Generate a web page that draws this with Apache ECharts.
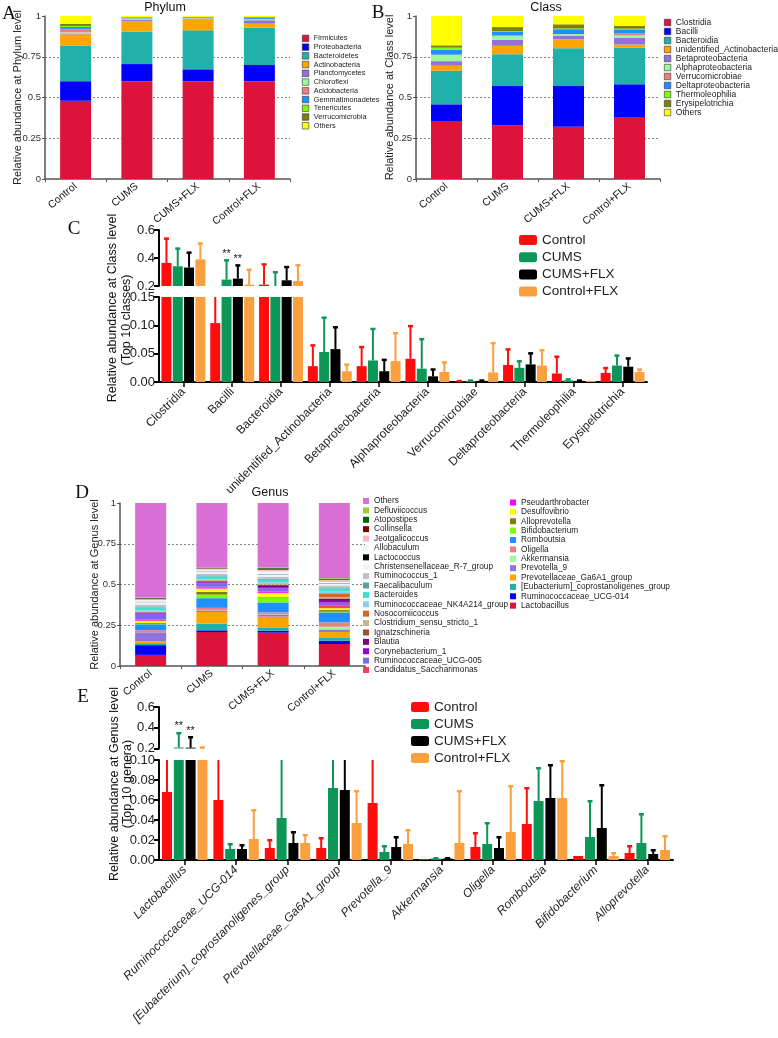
<!DOCTYPE html>
<html>
<head>
<meta charset="utf-8">
<title>Relative abundance</title>
<script src="https://cdn.jsdelivr.net/npm/echarts@6.0.0/dist/echarts.min.js"></script>
<style>
    html, body { margin: 0; padding: 0; background: #fff; }
    #main { width: 778px; height: 1038px; }
</style>
</head>
<body>
<div id="main"></div>
<script>
var groups = ['Control', 'CUMS', 'CUMS+FLX', 'Control+FLX'];

// A - phylum level, bottom to top of each bar
var phylumNames = ['Firmicutes', 'Proteobacteria', 'Bacteroidetes', 'Actinobacteria', 'Planctomycetes', 'Chloroflexi',
    'Acidobacteria', 'Gemmatimonadetes', 'Tenericutes', 'Verrucomicrobia', 'Others'];
var phylumControl = [0.48, 0.12, 0.217, 0.07, 0.006, 0.006, 0.022, 0.012, 0.006, 0.012, 0.049];
var phylumCums = [0.60, 0.105, 0.20, 0.065, 0.006, 0.003, 0.004, 0.003, 0.002, 0.004, 0.008];
var phylumCumsFlx = [0.60, 0.073, 0.239, 0.068, 0.004, 0.002, 0.002, 0.004, 0.001, 0.002, 0.005];
var phylumControlFlx = [0.60, 0.10, 0.228, 0.025, 0.021, 0.005, 0.003, 0.007, 0.002, 0.003, 0.006];

// B - class level
var classNames = ['Clostridia', 'Bacilli', 'Bacteroidia', 'unidentified_Actinobacteria', 'Betaproteobacteria',
    'Alphaproteobacteria', 'Verrucomicrobiae', 'Deltaproteobacteria', 'Thermoleophilia', 'Erysipelotrichia', 'Others'];
var classControl = [0.356, 0.102, 0.206, 0.031, 0.028, 0.037, 0.003, 0.03, 0.013, 0.014, 0.18];
var classCums = [0.33, 0.24, 0.196, 0.051, 0.038, 0.023, 0.002, 0.022, 0.004, 0.026, 0.068];
var classCumsFlx = [0.32, 0.25, 0.232, 0.055, 0.023, 0.008, 0.001, 0.03, 0.004, 0.026, 0.051];
var classControlFlx = [0.381, 0.2, 0.226, 0.018, 0.04, 0.015, 0.012, 0.026, 0.004, 0.018, 0.06];

// C - top 10 classes, mean and mean+sd
var classTop = ['Clostridia', 'Bacilli', 'Bacteroidia', 'unidentified_Actinobacteria', 'Betaproteobacteria',
    'Alphaproteobacteria', 'Verrucomicrobiae', 'Deltaproteobacteria', 'Thermoleophilia', 'Erysipelotrichia'];
var cMeanControl = [0.365, 0.104, 0.21, 0.028, 0.028, 0.041, 0.001, 0.03, 0.015, 0.016];
var cErrControl = [0.54, 0.17, 0.356, 0.065, 0.062, 0.099, 0.002, 0.058, 0.045, 0.025];
var cMeanCums = [0.341, 0.246, 0.198, 0.053, 0.038, 0.0235, 0.002, 0.025, 0.003, 0.029];
var cErrCums = [0.469, 0.385, 0.30, 0.114, 0.094, 0.076, 0.003, 0.037, 0.005, 0.047];
var cMeanCumsFlx = [0.332, 0.253, 0.241, 0.058, 0.019, 0.01, 0.002, 0.031, 0.002, 0.027];
var cErrCumsFlx = [0.44, 0.349, 0.337, 0.097, 0.0395, 0.0225, 0.003, 0.051, 0.003, 0.042];
var cMeanControlFlx = [0.39, 0.21, 0.236, 0.019, 0.037, 0.0177, 0.017, 0.029, 0.002, 0.0177];
var cErrControlFlx = [0.505, 0.318, 0.35, 0.031, 0.0865, 0.035, 0.069, 0.0565, 0.002, 0.0224];
var cStarsCums = ['', '**', '', '', '', '', '', '', '', ''];
var cStarsCumsFlx = ['', '**', '', '', '', '', '', '', '', ''];

// D - genus level, bottom to top of each bar
var genusNames = ['Lactobacillus', 'Ruminococcaceae_UCG-014', '[Eubacterium]_coprostanoligenes_group',
    'Prevotellaceae_Ga6A1_group', 'Prevotella_9', 'Akkermansia', 'Oligella', 'Romboutsia', 'Bifidobacterium',
    'Alloprevotella', 'Desulfovibrio', 'Pseudarthrobacter', 'Candidatus_Saccharimonas', 'Ruminococcaceae_UCG-005',
    'Corynebacterium_1', 'Blautia', 'Ignatzschineria', 'Clostridium_sensu_stricto_1', 'Nosocomiicoccus',
    'Ruminococcaceae_NK4A214_group', 'Bacteroides', 'Faecalibaculum', 'Ruminococcus_1',
    'Christensenellaceae_R-7_group', 'Lactococcus', 'Allobaculum', 'Jeotgalicoccus', 'Collinsella', 'Atopostipes',
    'Defluviicoccus', 'Others'];
var genusControl = [0.068, 0.06, 0.012, 0.011, 0.056, 0.001, 0.012, 0.036, 0.003, 0.005, 0.012, 0.004, 0.004, 0.036,
    0.004, 0.004, 0.002, 0.003, 0.002, 0.006, 0.018, 0.006, 0.012, 0.015, 0.002, 0.01, 0.006, 0.004, 0.003, 0.003, 0.58];
var genusCums = [0.208, 0.011, 0.041, 0.071, 0.008, 0.002, 0.016, 0.059, 0.022, 0.017, 0.02, 0.005, 0.006, 0.022,
    0.005, 0.006, 0.003, 0.004, 0.003, 0.005, 0.016, 0.006, 0.01, 0.012, 0.002, 0.01, 0.007, 0.002, 0.002, 0.002, 0.397];
var genusCumsFlx = [0.205, 0.011, 0.017, 0.07, 0.012, 0.002, 0.012, 0.061, 0.031, 0.004, 0.022, 0.006, 0.005, 0.018,
    0.008, 0.012, 0.003, 0.004, 0.003, 0.008, 0.015, 0.006, 0.012, 0.014, 0.002, 0.018, 0.01, 0.006, 0.005, 0.004, 0.394];
var genusControlFlx = [0.135, 0.02, 0.017, 0.037, 0.015, 0.017, 0.027, 0.061, 0.004, 0.01, 0.012, 0.006, 0.008, 0.02,
    0.01, 0.012, 0.004, 0.006, 0.025, 0.01, 0.02, 0.006, 0.012, 0.012, 0.002, 0.008, 0.012, 0.004, 0.004, 0.004, 0.46];

// E - top 10 genera, mean and mean+sd
var genusTop = ['Lactobacillus', 'Ruminococcaceae_UCG-014', '[Eubacterium]_coprostanoligenes_group',
    'Prevotellaceae_Ga6A1_group', 'Prevotella_9', 'Akkermansia', 'Oligella', 'Romboutsia', 'Bifidobacterium',
    'Alloprevotella'];
var eMeanControl = [0.068, 0.06, 0.012, 0.012, 0.057, 0.001, 0.013, 0.036, 0.004, 0.007];
var eErrControl = [0.17, 0.13, 0.02, 0.022, 0.11, 0.001, 0.027, 0.072, 0.004, 0.014];
var eMeanCums = [0.209, 0.011, 0.042, 0.072, 0.008, 0.0015, 0.016, 0.059, 0.023, 0.017];
var eErrCums = [0.35, 0.016, 0.12, 0.13, 0.014, 0.002, 0.037, 0.092, 0.059, 0.046];
var eMeanCumsFlx = [0.208, 0.011, 0.017, 0.07, 0.013, 0.0015, 0.012, 0.062, 0.032, 0.006];
var eErrCumsFlx = [0.311, 0.015, 0.028, 0.12, 0.023, 0.002, 0.023, 0.095, 0.075, 0.01];
var eMeanControlFlx = [0.135, 0.021, 0.017, 0.037, 0.016, 0.017, 0.028, 0.062, 0.004, 0.01];
var eErrControlFlx = [0.212, 0.05, 0.025, 0.069, 0.03, 0.069, 0.074, 0.099, 0.007, 0.024];
var eStarsCums = ['**', '', '', '', '', '', '', '', '', ''];
var eStarsCumsFlx = ['**', '', '', '', '', '', '', '', '', ''];

// colours
var taxaColors = ['#dc143c', '#0000ff', '#20b2aa', '#ffa500', '#9370db', '#98fb98', '#f08080', '#1e90ff',
    '#7cfc00', '#808000', '#ffff00'];
var genusColors = ['#dc143c', '#0000ff', '#20b2aa', '#ffa500', '#9370db', '#98fb98', '#f08080', '#1e90ff',
    '#7cfc00', '#808000', '#ffff00', '#ff00ff', '#f5405f', '#7b68ee', '#9400d3', '#800080', '#a0522d', '#d2b48c',
    '#d2691e', '#87cefa', '#40e0d0', '#5f9ea0', '#c0c0c0', '#eef4fb', '#000000', '#f0f8ff', '#ffb6c1', '#800000',
    '#006400', '#9acd32', '#da70d6'];
var groupColors = ['#ff0d0d', '#0c9658', '#000000', '#fba03f'];

var FONT = 'Arial, "Liberation Sans", Helvetica, sans-serif';
var SERIF = '"Times New Roman", "Liberation Serif", serif';

var myChart = echarts.init(document.getElementById('main'));

var series = [];

function addStack(names, colors, values, axis, stack) {
    names.forEach(function(n, k) {
        series.push({
            name: n,
            type: 'bar',
            stack: stack,
            xAxisIndex: axis,
            yAxisIndex: axis,
            barWidth: 31,
            itemStyle: { color: colors[k] },
            data: values.map(function(v) { return v[k]; })
        });
    });
}

// one sided error bar with cap, clamped to the segment of a broken axis
function errorBar(lo, hi, step, k, stars) {
    return function(params, api) {
        var x = api.value(0), mean = api.value(1), top = api.value(2);
        if (top <= lo || top <= mean || mean >= hi) return null;
        var from = Math.max(mean, lo), to = Math.min(top, hi);
        var p0 = api.coord([x, from]), p1 = api.coord([x, to]);
        var cx = p0[0] + (k - 1.5) * step;
        var color = api.visual('color');
        var children = [{
            type: 'line',
            shape: { x1: cx, y1: p0[1], x2: cx, y2: p1[1] },
            style: { stroke: color, lineWidth: 2 }
        }];
        if (top <= hi) {
            children.push({
                type: 'rect',
                shape: { x: cx - 2.5, y: p1[1] - 1, width: 5, height: 2.5 },
                style: { fill: color }
            });
            var s = stars[params.dataIndex];
            if (s) {
                children.push({
                    type: 'text',
                    style: {
                        text: s, x: cx, y: p1[1] - 1, fill: '#222', font: '11px ' + FONT,
                        textAlign: 'center', textVerticalAlign: 'bottom', align: 'center', verticalAlign: 'bottom'
                    }
                });
            }
        }
        return { type: 'group', children: children };
    };
}

function addGrouped(means, errs, stars, segs, step, gap) {
    segs.forEach(function(seg) {
        groups.forEach(function(g, k) {
            series.push({
                name: g,
                type: 'bar',
                xAxisIndex: seg.axis,
                yAxisIndex: seg.axis,
                barWidth: 10,
                barGap: gap,
                clip: true,
                itemStyle: { color: groupColors[k] },
                data: means[k]
            });
        });
        groups.forEach(function(g, k) {
            series.push({
                name: g + ' sd',
                type: 'custom',
                xAxisIndex: seg.axis,
                yAxisIndex: seg.axis,
                itemStyle: { color: groupColors[k] },
                renderItem: errorBar(seg.lo, seg.hi, step, k, seg.top ? stars[k] : []),
                encode: { x: 0, y: [1, 2] },
                data: means[k].map(function(m, i) { return [i, m, errs[k][i]]; }),
                z: 3
            });
        });
    });
}

addStack(phylumNames, taxaColors, [phylumControl, phylumCums, phylumCumsFlx, phylumControlFlx], 0, 'phylum');
addStack(classNames, taxaColors, [classControl, classCums, classCumsFlx, classControlFlx], 1, 'class');
addStack(genusNames, genusColors, [genusControl, genusCums, genusCumsFlx, genusControlFlx], 4, 'genus');

addGrouped([cMeanControl, cMeanCums, cMeanCumsFlx, cMeanControlFlx],
    [cErrControl, cErrCums, cErrCumsFlx, cErrControlFlx],
    [[], cStarsCums, cStarsCumsFlx, []],
    [{ axis: 2, lo: 0.2, hi: 0.6, top: true }, { axis: 3, lo: 0, hi: 0.15 }], 11.3, '13%');
addGrouped([eMeanControl, eMeanCums, eMeanCumsFlx, eMeanControlFlx],
    [eErrControl, eErrCums, eErrCumsFlx, eErrControlFlx],
    [[], eStarsCums, eStarsCumsFlx, []],
    [{ axis: 5, lo: 0.2, hi: 0.6, top: true }, { axis: 6, lo: 0, hi: 0.1 }], 11.8, '18%');

// axes
function stackX(grid) {
    return {
        type: 'category', gridIndex: grid, data: groups,
        axisLine: { lineStyle: { color: '#555', width: 1.5 } },
        axisTick: { show: true, length: 3, lineStyle: { color: '#555' } },
        axisLabel: { interval: 0, rotate: 40, fontSize: 10.5, color: '#111', margin: 6 }
    };
}

function stackY(grid, name, gap) {
    return {
        type: 'value', gridIndex: grid, min: 0, max: 1, interval: 0.25,
        name: name, nameLocation: 'middle', nameGap: gap, nameMoveOverlap: false,
        nameTextStyle: { fontSize: 11, color: '#222' },
        axisLine: { show: true, lineStyle: { color: '#555', width: 1.5 } },
        axisTick: { show: true, length: 3, lineStyle: { color: '#555' } },
        axisLabel: { fontSize: 9.5, color: '#333', margin: 4 },
        splitLine: { show: true, showMinLine: false, showMaxLine: false, lineStyle: { color: '#666', type: [2, 2], width: 0.8 } }
    };
}

function hiddenX(grid, cats) {
    return {
        type: 'category', gridIndex: grid, data: cats,
        axisLine: { show: false }, axisTick: { show: false }, axisLabel: { show: false }
    };
}

function barX(grid, cats, italic) {
    return {
        type: 'category', gridIndex: grid, data: cats,
        axisLine: { lineStyle: { color: '#000', width: 2 } },
        axisTick: { show: true, alignWithLabel: true, length: 5, lineStyle: { color: '#000', width: 1.5 } },
        axisLabel: { interval: 0, rotate: 45, fontSize: 12, color: '#222', margin: 8, fontStyle: italic ? 'italic' : 'normal' }
    };
}

function barY(grid, min, max, interval, digits) {
    return {
        type: 'value', gridIndex: grid, min: min, max: max, interval: interval,
        axisLine: { show: true, lineStyle: { color: '#000', width: 2 } },
        axisTick: { show: true, length: 5, lineStyle: { color: '#000', width: 2 } },
        axisLabel: { fontSize: 13, color: '#222', margin: 4, formatter: function(v) { return v.toFixed(digits); } },
        splitLine: { show: false }
    };
}

function legendText(size, lh) {
    return { fontSize: size, color: '#222', lineHeight: lh, fontFamily: FONT };
}

var dLegend = genusNames.slice().reverse().map(function(n) {
    return n === 'Others' ? { name: n, itemStyle: { color: '#da70d6' } } : n;
});

function txt(text, x, y, font, rot) {
    return {
        type: 'text', x: x, y: y, rotation: rot || 0,
        style: { text: text, font: font, fill: '#111', textAlign: 'center', textVerticalAlign: 'middle' }
    };
}

option = {
    animation: false,
    backgroundColor: '#fff',
    textStyle: { fontFamily: FONT },
    grid: [
        { left: 45, top: 16, width: 245, height: 163, outerBoundsMode: 'none' },
        { left: 416, top: 16, width: 244, height: 163, outerBoundsMode: 'none' },
        { left: 159, top: 230, width: 488, height: 56, outerBoundsMode: 'none' },
        { left: 159, top: 297, width: 488, height: 85, outerBoundsMode: 'none' },
        { left: 120, top: 503, width: 245, height: 163, outerBoundsMode: 'none' },
        { left: 159, top: 707, width: 514, height: 41.5, outerBoundsMode: 'none' },
        { left: 159, top: 760, width: 514, height: 100, outerBoundsMode: 'none' }
    ],
    xAxis: [
        stackX(0), stackX(1), hiddenX(2, classTop), barX(3, classTop, false),
        stackX(4), hiddenX(5, genusTop), barX(6, genusTop, true)
    ],
    yAxis: [
        stackY(0, 'Relative abundance at Phylum level', 22),
        stackY(1, 'Relative abundance at Class level', 21),
        barY(2, 0.2, 0.6, 0.2, 1),
        barY(3, 0, 0.15, 0.05, 2),
        stackY(4, 'Relative abundance at Genus level', 20),
        barY(5, 0.2, 0.6, 0.2, 1),
        barY(6, 0, 0.1, 0.02, 2)
    ],
    legend: [{
        data: phylumNames, orient: 'vertical', left: 302, top: 34, padding: 0, itemGap: 0,
        itemWidth: 6.5, itemHeight: 6.5, icon: 'rect', selectedMode: false,
        itemStyle: { borderColor: '#333', borderWidth: 0.6 },
        textStyle: legendText(7.3, 8.74)
    }, {
        data: classNames, orient: 'vertical', left: 664, top: 18, padding: 0, itemGap: 0,
        itemWidth: 6.5, itemHeight: 6.5, icon: 'rect', selectedMode: false,
        itemStyle: { borderColor: '#333', borderWidth: 0.6 },
        textStyle: legendText(8.5, 8.64)
    }, {
        data: dLegend.slice(0, 19), orient: 'vertical', left: 363, top: 496.3, padding: 0, itemGap: 0,
        itemWidth: 6, itemHeight: 6, icon: 'rect', selectedMode: false,
        textStyle: legendText(8.3, 9.39)
    }, {
        data: dLegend.slice(19), orient: 'vertical', left: 510, top: 497.8, padding: 0, itemGap: 0,
        itemWidth: 6, itemHeight: 6, icon: 'rect', selectedMode: false,
        textStyle: legendText(8.3, 9.38)
    }, {
        data: groups, orient: 'vertical', left: 519, top: 231.4, padding: 0, itemGap: 0,
        itemWidth: 18, itemHeight: 10, icon: 'roundRect', selectedMode: false,
        textStyle: legendText(13.5, 17.2)
    }, {
        data: groups, orient: 'vertical', left: 411, top: 698.5, padding: 0, itemGap: 0,
        itemWidth: 18, itemHeight: 10, icon: 'roundRect', selectedMode: false,
        textStyle: legendText(13.5, 17)
    }],
    graphic: [
        txt('A', 9, 14, '19px ' + SERIF),
        txt('B', 378, 13, '19px ' + SERIF),
        txt('C', 74, 229, '19px ' + SERIF),
        txt('D', 82, 493, '19px ' + SERIF),
        txt('E', 83, 697, '19px ' + SERIF),
        txt('Phylum', 165, 8, '12.5px ' + FONT),
        txt('Class', 546, 8, '12.5px ' + FONT),
        txt('Genus', 270, 493, '12.5px ' + FONT),
        txt('Relative abundance at Class level', 113, 308, '12.5px ' + FONT, Math.PI / 2),
        txt('(Top 10 classes)', 127, 320, '12.5px ' + FONT, Math.PI / 2),
        txt('Relative abundance at Genus level', 115, 784, '12.5px ' + FONT, Math.PI / 2),
        txt('(Top 10 genera)', 128, 784, '12.5px ' + FONT, Math.PI / 2)
    ],
    series: series
};

myChart.setOption(option);
</script>
</body>
</html>
